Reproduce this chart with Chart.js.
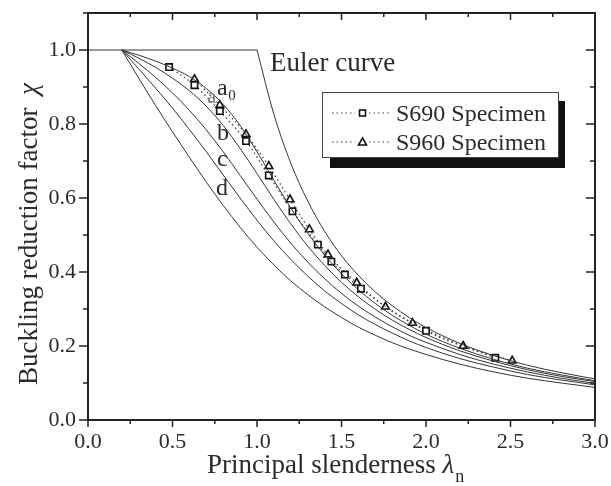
<!DOCTYPE html>
<html>
<head>
<meta charset="utf-8">
<script src="https://cdn.jsdelivr.net/npm/chart.js@4.4.0/dist/chart.umd.min.js"></script>
<style>
  html, body { margin: 0; padding: 0; background: #fff; }
</style>
</head>
<body>
<canvas id="chart" width="611" height="486"></canvas>
<script>
// slenderness values along the design curves
const lambda = [0.2, 0.3, 0.4, 0.5, 0.6, 0.7, 0.8, 0.9, 1.0, 1.1, 1.2, 1.3, 1.4, 1.5, 1.6, 1.7, 1.8, 1.9, 2.0, 2.2, 2.4, 2.6, 2.8, 3.0];
const curveA0 = [1, 0.986, 0.970, 0.951, 0.928, 0.896, 0.853, 0.796, 0.725, 0.648, 0.573, 0.505, 0.446, 0.395, 0.352, 0.315, 0.283, 0.256, 0.232, 0.194, 0.164, 0.140, 0.122, 0.106];
const curveA  = [1, 0.978, 0.953, 0.924, 0.890, 0.848, 0.796, 0.734, 0.666, 0.596, 0.530, 0.470, 0.418, 0.372, 0.333, 0.299, 0.270, 0.245, 0.223, 0.187, 0.159, 0.136, 0.118, 0.104];
const curveB  = [1, 0.964, 0.926, 0.884, 0.837, 0.784, 0.725, 0.661, 0.597, 0.535, 0.478, 0.427, 0.382, 0.342, 0.308, 0.278, 0.252, 0.229, 0.210, 0.177, 0.151, 0.130, 0.113, 0.099];
const curveC  = [1, 0.949, 0.897, 0.843, 0.785, 0.725, 0.662, 0.600, 0.540, 0.484, 0.434, 0.389, 0.349, 0.315, 0.284, 0.258, 0.235, 0.214, 0.196, 0.166, 0.143, 0.123, 0.108, 0.095];
const curveD  = [1, 0.924, 0.850, 0.779, 0.710, 0.643, 0.580, 0.521, 0.467, 0.419, 0.376, 0.339, 0.306, 0.277, 0.251, 0.229, 0.209, 0.192, 0.177, 0.151, 0.130, 0.113, 0.100, 0.088];

// Euler curve
const plateauX = [0, 1.0];
const plateauY = [1, 1];
const eulerX = [1.0, 1.1, 1.2, 1.3, 1.4, 1.5, 1.6, 1.7, 1.8, 1.9, 2.0, 2.2, 2.4, 2.6, 2.8, 3.0];
const eulerY = [1, 0.826, 0.694, 0.592, 0.510, 0.444, 0.391, 0.346, 0.309, 0.277, 0.250, 0.207, 0.174, 0.148, 0.128, 0.111];

// test results
const s690X = [0.48, 0.63, 0.78, 0.935, 1.07, 1.21, 1.36, 1.44, 1.52, 1.615, 2.0, 2.41];
const s690Y = [0.954, 0.905, 0.835, 0.754, 0.661, 0.564, 0.474, 0.428, 0.393, 0.355, 0.241, 0.168];
const s960X = [0.63, 0.78, 0.935, 1.07, 1.195, 1.31, 1.42, 1.59, 1.76, 1.92, 2.22, 2.51];
const s960Y = [0.921, 0.851, 0.772, 0.686, 0.596, 0.515, 0.447, 0.371, 0.306, 0.262, 0.200, 0.160];

const legendNames = ['S690 Specimen', 'S960 Specimen'];

const SERIF = '"Liberation Serif", "DejaVu Serif", serif';
const INK = '#2b2b2b';

function pts(xs, ys) {
    return xs.map((v, i) => ({ x: v, y: ys[i] }));
}

function curve(ys) {
    return {
        data: pts(lambda, ys),
        showLine: true,
        borderColor: '#333',
        borderWidth: 1,
        pointRadius: 0,
        cubicInterpolationMode: 'monotone'
    };
}

function specimen(xs, ys, style) {
    return {
        data: pts(xs, ys),
        showLine: true,
        borderColor: '#444',
        borderWidth: 1.3,
        borderDash: [1.5, 3],
        cubicInterpolationMode: 'monotone',
        pointStyle: style,
        pointRadius: 4.5,
        pointBorderWidth: 1.6,
        pointBorderColor: '#111',
        pointBackgroundColor: '#fff'
    };
}

// frame, inside/outside ticks, labels, titles and legend
const decor = {
    id: 'decor',
    afterDraw(chart) {
        const { ctx, chartArea: a, scales: { x, y } } = chart;
        ctx.save();
        ctx.strokeStyle = '#222';
        const line = (x1, y1, x2, y2) => { ctx.beginPath(); ctx.moveTo(x1, y1); ctx.lineTo(x2, y2); ctx.stroke(); };

        ctx.lineWidth = 1.5;
        x.ticks.forEach(t => {
            const px = x.getPixelForValue(t.value);
            const len = t.label !== '' ? 7 : 4;
            line(px, a.bottom, px, a.bottom + len);
            line(px, a.top, px, a.top + len);
        });
        y.ticks.forEach(t => {
            const py = y.getPixelForValue(t.value);
            const len = t.label !== '' ? 9 : 5;
            line(a.left - len, py, a.left, py);
            line(a.right - len, py, a.right, py);
        });
        ctx.lineWidth = 2;
        ctx.strokeRect(a.left, a.top, a.right - a.left, a.bottom - a.top);

        // curve labels
        ctx.fillStyle = INK;
        ctx.textBaseline = 'alphabetic';
        ctx.textAlign = 'left';
        const at = (vx, vy) => [x.getPixelForValue(vx), y.getPixelForValue(vy)];
        const label = (txt, vx, vy, size, color) => {
            const [px, py] = at(vx, vy);
            ctx.font = size + 'px ' + SERIF;
            ctx.fillStyle = color || INK;
            ctx.fillText(txt, px, py);
        };
        label('Euler curve', 1.077, 0.943, 27);
        label('a', 0.763, 0.878, 24);
        label('0', 0.83, 0.865, 15);
        label('a', 0.705, 0.857, 20, '#777');
        label('b', 0.763, 0.756, 24);
        label('c', 0.763, 0.686, 24);
        label('d', 0.757, 0.607, 24);

        // axis titles
        ctx.fillStyle = INK;
        ctx.font = '27px ' + SERIF;
        let tx = 207;
        const main = 'Principal slenderness ';
        ctx.fillText(main, tx, 473);
        tx += ctx.measureText(main).width;
        ctx.font = 'italic 27px ' + SERIF;
        ctx.fillText('\u03bb', tx, 473);
        tx += ctx.measureText('\u03bb').width;
        ctx.font = '18px ' + SERIF;
        ctx.fillText('n', tx + 1, 482);

        ctx.save();
        ctx.translate(37, 385);
        ctx.rotate(-Math.PI / 2);
        ctx.font = '27px ' + SERIF;
        const yt = 'Buckling reduction factor  ';
        ctx.fillText(yt, 0, 0);
        ctx.font = 'italic 27px ' + SERIF;
        ctx.fillText('\u03c7', ctx.measureText(yt).width * 1.0, 0);
        ctx.restore();

        // legend with drop shadow
        ctx.fillStyle = '#111';
        ctx.fillRect(330, 101, 235, 67);
        ctx.fillStyle = '#fff';
        ctx.fillRect(322, 92, 237, 66);
        ctx.lineWidth = 1;
        ctx.strokeStyle = '#444';
        ctx.strokeRect(322.5, 92.5, 236, 65);
        ctx.font = '24px ' + SERIF;
        ctx.fillStyle = INK;
        [113, 142].forEach((ly, i) => {
            ctx.save();
            ctx.strokeStyle = '#444';
            ctx.lineWidth = 1.2;
            ctx.setLineDash([1.5, 3]);
            line(332, ly, 355, ly);
            line(369, ly, 390, ly);
            ctx.restore();
            ctx.lineWidth = 1.6;
            ctx.strokeStyle = '#111';
            if (i === 0) {
                ctx.strokeRect(359.5, ly - 3, 6, 6);
            } else {
                ctx.beginPath();
                ctx.moveTo(362.5, ly - 4);
                ctx.lineTo(366.5, ly + 3);
                ctx.lineTo(358.5, ly + 3);
                ctx.closePath();
                ctx.stroke();
            }
            ctx.fillText(legendNames[i], 396, ly + 8);
        });
        ctx.restore();
    }
};

const pad = { left: 0, right: 16, top: 13, bottom: 0 };

const chart = new Chart(document.getElementById('chart'), {
    type: 'scatter',
    data: {
        datasets: [
            { data: pts(plateauX, plateauY), showLine: true, borderColor: '#333', borderWidth: 1, pointRadius: 0 },
            { data: pts(eulerX, eulerY), showLine: true, borderColor: '#333', borderWidth: 1, pointRadius: 0, cubicInterpolationMode: 'monotone' },
            curve(curveA0),
            curve(curveA),
            curve(curveB),
            curve(curveC),
            curve(curveD),
            specimen(s690X, s690Y, 'rect'),
            specimen(s960X, s960Y, 'triangle')
        ]
    },
    options: {
        responsive: false,
        animation: false,
        clip: false,
        layout: { padding: pad },
        plugins: { legend: { display: false }, tooltip: { enabled: false } },
        scales: {
            x: {
                type: 'linear',
                min: 0, max: 3,
                grid: { display: false, drawTicks: false },
                border: { display: false },
                ticks: {
                    stepSize: 0.25, autoSkip: false, maxRotation: 0, padding: 9,
                    color: INK, font: { family: SERIF, size: 22 },
                    callback: v => Math.round(v * 4) % 2 === 0 ? v.toFixed(1) : ''
                },
                afterFit: s => {
                    s.height = 66;
                    s.paddingLeft = 0; s.paddingRight = 0;
                }
            },
            y: {
                type: 'linear',
                min: 0, max: 1.1,
                grid: { display: false, drawTicks: false },
                border: { display: false },
                ticks: {
                    stepSize: 0.1, autoSkip: false, padding: 12,
                    color: INK, font: { family: SERIF, size: 22 },
                    callback: v => Math.round(v * 10) % 2 === 0 ? v.toFixed(1) : ''
                },
                afterFit: s => {
                    s.width = 88;
                    s.paddingTop = 0; s.paddingBottom = 0;
                }
            }
        }
    },
    plugins: [decor]
});
</script>
</body>
</html>
